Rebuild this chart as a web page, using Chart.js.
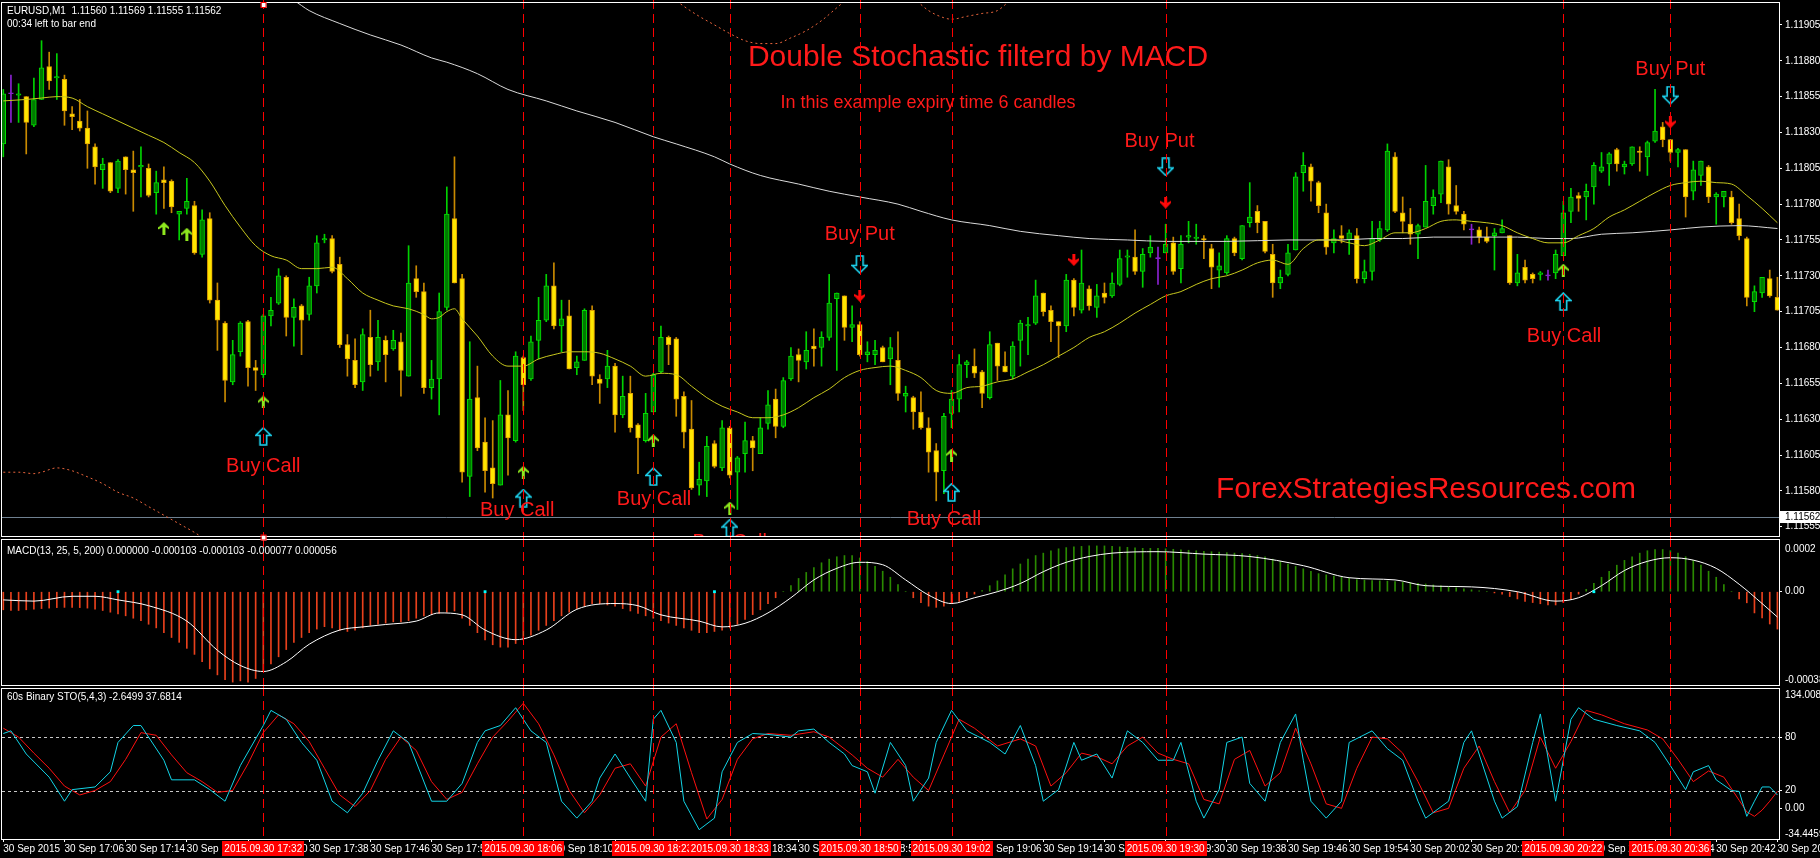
<!DOCTYPE html>
<html>
<head>
<meta charset="utf-8">
<title>EURUSD M1 - Double Stochastic filterd by MACD</title>
<script src="https://cdn.jsdelivr.net/npm/chart.js@4.4.1/dist/chart.umd.min.js"></script>
<style>
  html, body { margin: 0; padding: 0; background: #000; overflow: hidden; }
  #stage { position: relative; width: 1820px; height: 858px; background: #000; }
  #stage canvas { position: absolute; left: 0; }
</style>
</head>
<body>
<div id="stage">
  <canvas id="pricePane" width="1820" height="538" style="top:0px"></canvas>
  <canvas id="macdPane" width="1820" height="149" style="top:538px"></canvas>
  <canvas id="stochPane" width="1820" height="171" style="top:687px"></canvas>
</div>
<script>
// ---------- EURUSD M1, 30 Sep 2015 16:58 .. 20:50 (one entry per minute bar) ----------
const priceOpen = [
1.11822,1.11857,1.11856,1.11855,1.11835,1.11853,1.11876,1.11868,1.11867,1.11843,
1.11838,1.11833,1.11820,1.11804,1.11809,1.11791,1.11813,1.11804,1.11806,1.11805,
1.11788,1.11797,1.11796,1.11773,1.11777,1.11779,1.11745,1.11770,1.11713,1.11697,
1.11656,1.11677,1.11698,1.11666,1.11661,1.11702,1.11711,1.11729,1.11701,1.11709,
1.11703,1.11723,1.11755,1.11756,1.11738,1.11682,1.11671,1.11656,1.11687,1.11670,
1.11685,1.11679,1.11684,1.11660,1.11728,1.11719,1.11652,1.11658,1.11708,1.11770,
1.11728,1.11590,1.11645,1.11614,1.11596,1.11584,1.11633,1.11615,1.11673,1.11658,
1.11685,1.11699,1.11723,1.11695,1.11702,1.11666,1.11671,1.11706,1.11658,1.11658,
1.11667,1.11633,1.11648,1.11626,1.11615,1.11635,1.11663,1.11687,1.11686,1.11646,
1.11623,1.11584,1.11587,1.11613,1.11596,1.11624,1.11593,1.11606,1.11615,1.11606,
1.11627,1.11644,1.11625,1.11658,1.11675,1.11670,1.11681,1.11680,1.11687,1.11714,
1.11716,1.11694,1.11696,1.11675,1.11675,1.11680,1.11672,1.11671,1.11646,1.11645,
1.11635,1.11624,1.11608,1.11594,1.11634,1.11644,1.11668,1.11667,1.11663,1.11645,
1.11683,1.11667,1.11660,1.11685,1.11695,1.11697,1.11718,1.11706,1.11698,1.11695,
1.11727,1.11706,1.11721,1.11708,1.11718,1.11716,1.11724,1.11743,1.11743,1.11733,
1.11746,1.11742,1.11746,1.11753,1.11735,1.11757,1.11756,1.11756,1.11749,1.11734,
1.11732,1.11756,1.11742,1.11767,1.11775,1.11768,1.11745,1.11725,1.11731,1.11748,
1.11802,1.11806,1.11795,1.11774,1.11753,1.11758,1.11755,1.11758,1.11728,1.11733,
1.11755,1.11762,1.11813,1.11774,1.11766,1.11759,1.11764,1.11779,1.11787,1.11806,
1.11779,1.11773,1.11762,1.11762,1.11757,1.11758,1.11760,1.11758,1.11725,1.11736,
1.11731,1.11731,1.11730,1.11732,1.11744,1.11775,1.11786,1.11785,1.11792,1.11803,
1.11808,1.11818,1.11806,1.11808,1.11817,1.11813,1.11824,1.11834,1.11825,1.11816,
1.11818,1.11789,1.11800,1.11806,1.11785,1.11785,1.11785,1.11770,1.11756,1.11712,
1.11718,1.11728,1.11715];
const priceHigh = [
1.11860,1.11870,1.11864,1.11855,1.11868,1.11894,1.11886,1.11885,1.11870,1.11848,
1.11853,1.11845,1.11822,1.11812,1.11809,1.11811,1.11813,1.11817,1.11820,1.11808,
1.11803,1.11806,1.11797,1.11775,1.11798,1.11782,1.11776,1.11774,1.11725,1.11698,
1.11685,1.11698,1.11699,1.11671,1.11703,1.11715,1.11735,1.11730,1.11714,1.11710,
1.11729,1.11758,1.11759,1.11758,1.11743,1.11689,1.11686,1.11693,1.11706,1.11699,
1.11688,1.11692,1.11690,1.11751,1.11737,1.11725,1.11671,1.11718,1.11792,1.11813,
1.11731,1.11684,1.11667,1.11631,1.11629,1.11657,1.11650,1.11677,1.11674,1.11688,
1.11715,1.11731,1.11739,1.11713,1.11713,1.11674,1.11707,1.11709,1.11661,1.11678,
1.11669,1.11660,1.11660,1.11627,1.11648,1.11662,1.11695,1.11688,1.11687,1.11649,
1.11643,1.11600,1.11618,1.11615,1.11629,1.11625,1.11604,1.11628,1.11618,1.11631,
1.11650,1.11651,1.11659,1.11680,1.11679,1.11691,1.11693,1.11691,1.11731,1.11718,
1.11716,1.11709,1.11698,1.11684,1.11685,1.11681,1.11687,1.11691,1.11653,1.11646,
1.11649,1.11631,1.11613,1.11634,1.11650,1.11675,1.11671,1.11679,1.11664,1.11691,
1.11683,1.11677,1.11684,1.11699,1.11701,1.11727,1.11718,1.11709,1.11698,1.11731,
1.11728,1.11748,1.11723,1.11724,1.11725,1.11732,1.11748,1.11748,1.11762,1.11749,
1.11758,1.11750,1.11766,1.11757,1.11758,1.11768,1.11766,1.11758,1.11752,1.11746,
1.11758,1.11757,1.11765,1.11795,1.11779,1.11768,1.11752,1.11734,1.11752,1.11802,
1.11816,1.11808,1.11796,1.11780,1.11762,1.11765,1.11762,1.11763,1.11741,1.11768,
1.11768,1.11822,1.11816,1.11785,1.11777,1.11766,1.11807,1.11790,1.11810,1.11811,
1.11793,1.11775,1.11766,1.11764,1.11764,1.11763,1.11769,1.11758,1.11745,1.11741,
1.11732,1.11733,1.11734,1.11748,1.11782,1.11791,1.11788,1.11794,1.11809,1.11816,
1.11816,1.11819,1.11810,1.11820,1.11820,1.11824,1.11860,1.11837,1.11825,1.11819,
1.11818,1.11810,1.11810,1.11807,1.11788,1.11789,1.11789,1.11780,1.11757,1.11723,
1.11729,1.11734,1.11729];
const priceLow = [
1.11813,1.11837,1.11837,1.11815,1.11834,1.11853,1.11860,1.11853,1.11835,1.11832,
1.11831,1.11805,1.11794,1.11791,1.11788,1.11788,1.11787,1.11775,1.11785,1.11785,
1.11773,1.11777,1.11774,1.11755,1.11773,1.11745,1.11743,1.11711,1.11678,1.11642,
1.11654,1.11674,1.11653,1.11650,1.11659,1.11695,1.11710,1.11688,1.11681,1.11675,
1.11699,1.11718,1.11753,1.11732,1.11680,1.11660,1.11652,1.11650,1.11660,1.11664,
1.11656,1.11678,1.11646,1.11660,1.11715,1.11648,1.11644,1.11633,1.11706,1.11725,
1.11586,1.11576,1.11608,1.11579,1.11575,1.11584,1.11591,1.11614,1.11636,1.11657,
1.11672,1.11698,1.11693,1.11677,1.11665,1.11661,1.11671,1.11654,1.11641,1.11652,
1.11621,1.11631,1.11621,1.11592,1.11614,1.11635,1.11662,1.11668,1.11632,1.11610,
1.11581,1.11577,1.11576,1.11596,1.11594,1.11589,1.11567,1.11593,1.11594,1.11606,
1.11623,1.11617,1.11624,1.11657,1.11656,1.11665,1.11667,1.11667,1.11685,1.11664,
1.11685,1.11684,1.11674,1.11670,1.11668,1.11670,1.11654,1.11643,1.11635,1.11623,
1.11623,1.11593,1.11573,1.11578,1.11624,1.11635,1.11659,1.11659,1.11638,1.11644,
1.11657,1.11663,1.11658,1.11667,1.11675,1.11696,1.11702,1.11684,1.11673,1.11691,
1.11702,1.11704,1.11706,1.11701,1.11711,1.11715,1.11723,1.11729,1.11731,1.11722,
1.11743,1.11724,1.11746,1.11731,1.11725,1.11753,1.11752,1.11742,1.11721,1.11722,
1.11731,1.11744,1.11741,1.11764,1.11760,1.11746,1.11715,1.11721,1.11730,1.11748,
1.11789,1.11782,1.11774,1.11745,1.11746,1.11753,1.11745,1.11725,1.11725,1.11727,
1.11754,1.11761,1.11774,1.11760,1.11752,1.11742,1.11764,1.11773,1.11781,1.11773,
1.11773,1.11762,1.11752,1.11753,1.11753,1.11734,1.11760,1.11724,1.11723,1.11725,
1.11725,1.11727,1.11727,1.11728,1.11744,1.11767,1.11775,1.11769,1.11780,1.11802,
1.11793,1.11803,1.11801,1.11807,1.11803,1.11800,1.11823,1.11820,1.11810,1.11806,
1.11771,1.11783,1.11793,1.11781,1.11766,1.11778,1.11766,1.11755,1.11709,1.11705,
1.11715,1.11715,1.11706];
const priceClose = [
1.11857,1.11857,1.11857,1.11837,1.11853,1.11875,1.11866,1.11869,1.11845,1.11841,
1.11833,1.11822,1.11806,1.11808,1.11789,1.11810,1.11804,1.11802,1.11807,1.11786,
1.11795,1.11795,1.11778,1.11775,1.11782,1.11746,1.11769,1.11713,1.11699,1.11657,
1.11675,1.11697,1.11666,1.11664,1.11702,1.11706,1.11730,1.11701,1.11708,1.11699,
1.11723,1.11753,1.11756,1.11733,1.11682,1.11672,1.11654,1.11689,1.11668,1.11687,
1.11675,1.11685,1.11664,1.11725,1.11719,1.11652,1.11658,1.11705,1.11773,1.11725,
1.11593,1.11644,1.11610,1.11594,1.11585,1.11633,1.11617,1.11674,1.11654,1.11684,
1.11699,1.11723,1.11695,1.11700,1.11665,1.11670,1.11706,1.11660,1.11655,1.11667,
1.11633,1.11646,1.11624,1.11617,1.11634,1.11661,1.11687,1.11682,1.11644,1.11621,
1.11582,1.11588,1.11611,1.11597,1.11624,1.11591,1.11603,1.11615,1.11610,1.11624,
1.11640,1.11625,1.11657,1.11674,1.11671,1.11678,1.11679,1.11687,1.11711,1.11718,
1.11694,1.11696,1.11675,1.11677,1.11678,1.11670,1.11680,1.11648,1.11648,1.11635,
1.11624,1.11607,1.11593,1.11632,1.11644,1.11668,1.11670,1.11662,1.11648,1.11682,
1.11667,1.11663,1.11681,1.11697,1.11696,1.11716,1.11705,1.11698,1.11695,1.11727,
1.11708,1.11725,1.11709,1.11716,1.11715,1.11725,1.11742,1.11744,1.11733,1.11745,
1.11750,1.11742,1.11752,1.11733,1.11752,1.11758,1.11757,1.11755,1.11736,1.11737,
1.11756,1.11746,1.11765,1.11771,1.11767,1.11747,1.11725,1.11729,1.11746,1.11799,
1.11807,1.11796,1.11779,1.11750,1.11756,1.11756,1.11760,1.11728,1.11733,1.11756,
1.11763,1.11817,1.11775,1.11768,1.11759,1.11765,1.11782,1.11785,1.11810,1.11780,
1.11775,1.11766,1.11762,1.11757,1.11754,1.11760,1.11763,1.11725,1.11732,1.11727,
1.11728,1.11732,1.11730,1.11745,1.11774,1.11785,1.11784,1.11789,1.11807,1.11806,
1.11815,1.11808,1.11808,1.11820,1.11816,1.11823,1.11831,1.11825,1.11816,1.11818,
1.11785,1.11804,1.11810,1.11785,1.11787,1.11789,1.11767,1.11758,1.11715,1.11719,
1.11729,1.11716,1.11706];

// Moving averages (bar index -> value)
const maFastIdx = [0,3,5,7,9,11,13,15,17,19,21,23,25,27,29,31,33,35,37,39,41,43,45,47,49,51,53,55,56,57,58,59,60,62,64,66,68,70,72,74,76,78,80,82,84,86,88,90,92,94,96,98,100,102,104,106,108,110,112,114,116,118,120,122,124,126,128,130,132,134,136,138,140,142,144,146,148,150,152,154,156,158,160,162,164,166,168,170,172,174,176,178,180,182,184,186,188,190,192,194,196,198,200,202,204,206,208,210,212,214,216,218,220,222,224,226,228,230,232];
const maFast = [1.11852,1.11853,1.11854,1.11855,1.11854,1.11848,1.11843,1.11838,1.11833,1.11828,1.11823,1.11816,1.11809,1.11796,1.11779,1.11764,1.11751,1.11744,1.11741,1.11735,1.11735,1.11736,1.11728,1.11718,1.11713,1.11709,1.11707,1.11703,1.11700,1.11701,1.11705,1.11707,1.11700,1.11688,1.11674,1.11667,1.11667,1.11672,1.11675,1.11677,1.11677,1.11676,1.11672,1.11667,1.11660,1.11662,1.11661,1.11653,1.11645,1.11639,1.11635,1.11631,1.11631,1.11633,1.11638,1.11645,1.11651,1.11659,1.11664,1.11666,1.11667,1.11664,1.11659,1.11650,1.11648,1.11652,1.11653,1.11656,1.11658,1.11663,1.11668,1.11674,1.11680,1.11687,1.11691,1.11697,1.11704,1.11710,1.11716,1.11719,1.11724,1.11728,1.11730,1.11734,1.11739,1.11741,1.11738,1.11749,1.11755,1.11755,1.11753,1.11751,1.11755,1.11760,1.11760,1.11763,1.11768,1.11769,1.11768,1.11767,1.11765,1.11760,1.11756,1.11753,1.11753,1.11758,1.11763,1.11771,1.11776,1.11782,1.11788,1.11793,1.11795,1.11796,1.11795,1.11794,1.11786,1.11777,1.11767];
const maSlowIdx = [0,10,20,30,38,40,44,48,52,56,58,62,66,71,75,80,85,88,93,95,99,104,108,112,117,120,124,129,133,138,142,147,152,160,168,175,179,183,187,192,198,202,205,209,213,218,222,227,232];
const maSlow = [1.12010,1.11985,1.11960,1.11938,1.11922,1.11915,1.11906,1.11898,1.11891,1.11882,1.11879,1.11871,1.11860,1.11852,1.11845,1.11837,1.11827,1.11822,1.11813,1.11808,1.11800,1.11794,1.11789,1.11785,1.11780,1.11775,1.11769,1.11765,1.11761,1.11758,1.11756,1.11755,1.11754,1.11754,1.11755,1.11755,1.11756,1.11756,1.11757,1.11757,1.11757,1.11756,1.11756,1.11759,1.11760,1.11762,1.11764,1.11765,1.11763];

// Envelope bands (only the stretches that enter the window)
const bandLowIdx = [0,2,4,5,7,9,10,13,15,17,19,21,23,25,27];
const bandLow = [1.11593,1.11593,1.11592,1.11593,1.11596,1.11594,1.11592,1.11585,1.11579,1.11575,1.11569,1.11563,1.11557,1.11551,1.11544];
const bandHighIdx = [87,89,91,93,95,97,99,101,103,105,107,109,111,115,119,121,123,124,126,128,130,132];
const bandHigh = [1.11926,1.11918,1.11911,1.11905,1.11899,1.11894,1.11892,1.11892,1.11896,1.11901,1.11908,1.11917,1.11926,null,1.11924,1.11915,1.11910,1.11909,1.11911,1.11913,1.11915,1.11924];

// Signal arrows
const trendUpIdx = [21,24,34,68,85,95,124,204];
const trendUpPrice = [1.11763,1.11759,1.11642,1.11593,1.11615,1.11568,1.11605,1.11734];
const callArrowIdx = [34,68,85,95,124,204];
const callArrowPrice = [1.11618,1.11575,1.11590,1.11554,1.11579,1.11712];
const putArrowIdx = [112,152,218];
const putArrowPrice = [1.11738,1.11806,1.11856];
const downArrowIdx = [112,140,152,218];
const downArrowPrice = [1.11716,1.11741,1.11781,1.11837];

// Text labels next to the signals
const callLabelIdx = [34,67.2,85.1,95,123,204.1];
const callLabelPrice = [1.11597,1.11566,1.11574,1.11544,1.11560,1.11688];
const putLabelIdx = [112,151.2,218];
const putLabelPrice = [1.11759,1.11824,1.11874];

// Expiry markers (vertical lines) and their time stamps
const vlineIdx = [34,68,85,95,112,124,152,204,218];
const vlineLabels = ['2015.09.30 17:32','2015.09.30 18:06','2015.09.30 18:23','2015.09.30 18:33','2015.09.30 18:50','2015.09.30 19:02','2015.09.30 19:30','2015.09.30 20:22','2015.09.30 20:36'];
const selectedLineIdx = 34;

// Price axis
const priceTicks = [1.11555,1.11580,1.11605,1.11630,1.11655,1.11680,1.11705,1.11730,1.11755,1.11780,1.11805,1.11830,1.11855,1.11880,1.11905];
const priceMin = 1.115485, priceMax = 1.119203;
const bidPrice = 1.11562;

// Time axis
const timeTickIdx = [0,8,16,24,32,40,48,56,64,72,80,88,96,104,112,120,128,136,144,152,160,168,176,184,192,200,208,216,224,232];
const timeLabels = ['30 Sep 2015','30 Sep 17:06','30 Sep 17:14','30 Sep 17:22','30 Sep 17:30','30 Sep 17:38','30 Sep 17:46','30 Sep 17:54','30 Sep 18:02','30 Sep 18:10','30 Sep 18:18','30 Sep 18:26','30 Sep 18:34','30 Sep 18:42','30 Sep 18:50','30 Sep 18:58','30 Sep 19:06','30 Sep 19:14','30 Sep 19:22','30 Sep 19:30','30 Sep 19:38','30 Sep 19:46','30 Sep 19:54','30 Sep 20:02','30 Sep 20:10','30 Sep 20:18','30 Sep 20:26','30 Sep 20:34','30 Sep 20:42','30 Sep 20:50'];

// MACD(13,25,5) histogram per bar and its signal line
const macdHist = [
-75e-6,-78e-6,-78e-6,-75e-6,-72e-6,-70e-6,-68e-6,-66e-6,-65e-6,-65e-6,
-66e-6,-68e-6,-72e-6,-78e-6,-85e-6,-92e-6,-100e-6,-110e-6,-120e-6,-135e-6,
-150e-6,-170e-6,-190e-6,-210e-6,-235e-6,-260e-6,-290e-6,-320e-6,-345e-6,-365e-6,
-375e-6,-370e-6,-375e-6,-360e-6,-330e-6,-300e-6,-270e-6,-240e-6,-210e-6,-190e-6,
-170e-6,-155e-6,-145e-6,-150e-6,-160e-6,-165e-6,-160e-6,-150e-6,-140e-6,-135e-6,
-130e-6,-125e-6,-125e-6,-120e-6,-110e-6,-100e-6,-95e-6,-90e-6,-85e-6,-80e-6,
-110e-6,-140e-6,-170e-6,-200e-6,-220e-6,-230e-6,-230e-6,-215e-6,-200e-6,-180e-6,
-160e-6,-140e-6,-120e-6,-100e-6,-85e-6,-70e-6,-60e-6,-50e-6,-50e-6,-55e-6,
-60e-6,-70e-6,-80e-6,-90e-6,-100e-6,-110e-6,-120e-6,-130e-6,-140e-6,-150e-6,
-160e-6,-170e-6,-170e-6,-165e-6,-160e-6,-150e-6,-135e-6,-115e-6,-95e-6,-75e-6,
-50e-6,-25e-6,0,25e-6,55e-6,80e-6,100e-6,120e-6,135e-6,145e-6,
150e-6,150e-6,140e-6,125e-6,105e-6,85e-6,60e-6,30e-6,0,-25e-6,
-45e-6,-60e-6,-65e-6,-60e-6,-50e-6,-40e-6,-25e-6,-10e-6,5e-6,25e-6,
45e-6,70e-6,95e-6,115e-6,135e-6,150e-6,160e-6,170e-6,178e-6,183e-6,
186e-6,188e-6,190e-6,190e-6,190e-6,188e-6,186e-6,184e-6,182e-6,180e-6,
180e-6,180e-6,178e-6,176e-6,174e-6,172e-6,170e-6,168e-6,166e-6,164e-6,
162e-6,160e-6,158e-6,155e-6,150e-6,145e-6,135e-6,125e-6,115e-6,105e-6,
95e-6,85e-6,75e-6,70e-6,65e-6,60e-6,55e-6,50e-6,48e-6,46e-6,
45e-6,44e-6,42e-6,40e-6,38e-6,35e-6,32e-6,28e-6,24e-6,20e-6,
16e-6,12e-6,8e-6,4e-6,0,-5e-6,-10e-6,-20e-6,-30e-6,-40e-6,
-45e-6,-50e-6,-55e-6,-55e-6,-45e-6,-30e-6,-10e-6,10e-6,35e-6,60e-6,
85e-6,110e-6,130e-6,145e-6,160e-6,170e-6,175e-6,175e-6,170e-6,160e-6,
145e-6,130e-6,110e-6,85e-6,60e-6,30e-6,0,-30e-6,-46e-6,-88e-6,
-109e-6,-134e-6,-155e-6];
const macdSignalIdx = [0,4,9,12,15,19,24,28,31,34,37,40,44,47,50,54,57,60,63,67,71,75,80,83,86,91,94,97,100,103,106,109,112,115,118,121,124,127,130,133,136,139,142,145,151,157,163,170,176,182,186,192,198,203,206,209,212,215,218,221,224,227,230,232];
const macdSignal = [-34e-6,-39e-6,-19e-6,-19e-6,-34e-6,-58e-6,-122e-6,-243e-6,-306e-6,-331e-6,-291e-6,-218e-6,-159e-6,-146e-6,-136e-6,-122e-6,-88e-6,-96e-6,-159e-6,-199e-6,-159e-6,-73e-6,-49e-6,-58e-6,-96e-6,-122e-6,-146e-6,-131e-6,-88e-6,-25e-6,49e-6,97e-6,122e-6,112e-6,49e-6,-14e-6,-49e-6,-25e-6,0,34e-6,83e-6,122e-6,146e-6,160e-6,166e-6,156e-6,146e-6,108e-6,58e-6,49e-6,25e-6,20e-6,0,-39e-6,-25e-6,25e-6,88e-6,126e-6,141e-6,131e-6,97e-6,31e-6,-49e-6,-105e-6];
const macdDotIdx = [15,63,93,208];
const macdMin = -0.000387, macdMax = 0.0002145;

// 60s Binary STO(5,4,3): main and signal lines
const stochMainIdx = [0,1,3,6,8,9,12,14,15,17,18,21,22,25,27,29,31,34,35,37,39,41,43,45,47,49,51,53,56,58,60,62,63,65,67,69,71,73,75,77,78,80,82,84,85,86,88,89,91,93,94,96,98,100,103,104,106,108,110,111,113,114,116,118,119,121,122,124,126,129,131,133,135,136,138,140,141,143,145,147,149,151,153,154,156,157,159,160,162,163,165,167,169,170,171,173,175,176,179,181,183,185,186,189,191,192,195,196,198,200,201,203,205,206,208,211,214,216,218,220,221,223,224,226,227,228,229,230,231,232];
const stochMain = [84,87,61,35,8,21,24,41,74,93,93,54,32,32,21,8,48,93,110,100,74,54,8,-5,17,54,87,74,8,8,28,74,87,93,113,87,74,8,-11,8,34,61,34,8,100,110,74,8,-24,-11,41,74,84,83,80,87,89,74,61,48,41,17,74,48,8,34,74,110,87,74,61,93,48,8,21,74,54,61,34,87,74,54,54,74,8,-11,21,74,80,28,8,74,106,54,8,-11,8,74,87,67,54,8,-11,8,74,87,8,-11,2,74,106,8,100,113,100,93,87,74,48,21,41,48,32,20,19,-9,8,24,24,15];
const stochSignalIdx = [0,2,4,6,8,10,12,14,16,18,20,22,24,26,28,30,32,34,36,38,40,42,44,46,48,50,52,54,56,58,60,62,64,66,68,70,72,74,76,78,80,82,84,86,88,90,92,94,96,98,100,103,106,108,111,113,115,117,119,121,123,125,127,130,133,135,137,139,141,143,145,147,149,151,153,155,157,159,161,163,165,167,169,171,173,175,177,179,181,183,185,187,189,191,193,195,197,199,201,203,205,207,209,212,215,217,219,221,223,225,227,228,229,230,231,232];
const stochSignal = [90,80,62,45,25,15,20,30,55,85,82,60,40,30,18,20,50,85,105,95,75,45,15,2,20,55,80,65,30,10,18,50,80,98,118,95,60,20,-5,15,45,50,25,80,95,40,-12,10,55,78,84,82,86,80,60,45,35,55,35,20,60,100,90,70,78,70,25,40,62,58,50,70,80,62,55,50,10,5,55,65,25,40,90,50,5,0,45,80,78,62,30,-5,0,45,70,30,-5,20,80,45,75,110,105,95,88,78,55,30,42,35,9,-4,-9,-2,8,19];
const stochLevels = [80, 20];
const stochTicks = [80, 20, 0];
const stochTickLabels = ['80', '20', '0.00'];
const stochMin = -34.4459, stochMax = 134.0088;

// ---------- styling ----------
const FONT = '"Liberation Sans", Arial, sans-serif';
const SIGNAL_RED = '#FF1A1A';
Chart.defaults.font.family = FONT;
Chart.defaults.font.size = 10;
Chart.defaults.color = '#FFFFFF';
Chart.defaults.animation = false;

const X_MIN = -0.17, X_MAX = 232.21;
const barDir = i => (priceClose[i] > priceOpen[i] ? 1 : (priceClose[i] < priceOpen[i] ? -1 : 0));
const pick = (i, bull, bear, doji) => { const d = barDir(i); return d > 0 ? bull : (d < 0 ? bear : doji); };

function icon(w, h, draw) {
  const c = document.createElement('canvas');
  c.width = w; c.height = h;
  draw(c.getContext('2d'));
  return c;
}
function poly(g, p) { g.beginPath(); g.moveTo(p[0][0], p[0][1]); for (let k = 1; k < p.length; k++) g.lineTo(p[k][0], p[k][1]); g.closePath(); }
const iconTrendUp = icon(11, 13, g => { g.fillStyle = '#8FE81E'; poly(g, [[5.5,0],[11,5.5],[11,7.5],[7,5],[7,13],[4,13],[4,5],[0,7.5],[0,5.5]]); g.fill(); });
const iconCall = icon(17, 19, g => { g.strokeStyle = '#1ED6F2'; g.lineWidth = 1.6; poly(g, [[8.5,1],[16,8.5],[11.8,8.5],[11.8,18],[5.2,18],[5.2,8.5],[1,8.5]]); g.stroke(); });
const iconPut = icon(17, 19, g => { g.strokeStyle = '#1ED6F2'; g.lineWidth = 1.6; poly(g, [[5.2,1],[11.8,1],[11.8,10.5],[16,10.5],[8.5,18],[1,10.5],[5.2,10.5]]); g.stroke(); });
const iconDown = icon(11, 12, g => { g.fillStyle = '#FF0A0A'; poly(g, [[4,0],[7,0],[7,6],[11,4],[11,6],[5.5,12],[0,6],[0,4],[4,6]]); g.fill(); });

const pts = (idx, vals) => idx.map((x, k) => ({ x, y: vals[k] }));

function rightAxis(min, max, ticks, fmt) {
  return {
    type: 'linear', position: 'right', min, max,
    afterBuildTicks: s => { s.ticks = ticks.map(v => ({ value: v })); },
    afterFit: s => { s.width = 41; s.paddingTop = 0; s.paddingBottom = 0; },
    grid: { drawOnChartArea: false, drawTicks: true, tickLength: 3, color: '#FFFFFF' },
    border: { display: false },
    ticks: { color: '#FFFFFF', padding: 3, autoSkip: false, font: { size: 10, lineHeight: 0.4 }, callback: fmt }
  };
}
const hiddenX = { type: 'linear', min: X_MIN, max: X_MAX, offset: false, display: false };

// small anchor square drawn on the selected vertical line
function anchorSquare(ctx, px, y) {
  ctx.fillStyle = '#FFFFFF';
  ctx.fillRect(px - 2, y - 2, 5, 5);
  ctx.strokeStyle = '#FF0000'; ctx.setLineDash([]);
  ctx.strokeRect(px - 2.5, y - 2.5, 5, 5);
}

// overlays: borders, texts, expiry lines, level lines
const mtOverlay = {
  id: 'mtOverlay',
  beforeDatasetsDraw(chart, args, o) {
    const { ctx, chartArea: a } = chart;
    const ys = chart.scales.y;
    ctx.save();
    ctx.lineWidth = 1;
    if (o.kind === 'price') {
      const yb = Math.round(ys.getPixelForValue(bidPrice)) + 0.5;
      ctx.strokeStyle = '#6F8090';
      ctx.beginPath(); ctx.moveTo(a.left, yb); ctx.lineTo(a.right, yb); ctx.stroke();
    }
    if (o.kind === 'stoch') {
      ctx.strokeStyle = '#C8C8C8'; ctx.setLineDash([3, 3]);
      stochLevels.forEach(v => {
        const yy = Math.round(ys.getPixelForValue(v)) + 0.5;
        ctx.beginPath(); ctx.moveTo(a.left, yy); ctx.lineTo(a.right, yy); ctx.stroke();
      });
    }
    ctx.restore();
  },
  afterDatasetsDraw(chart, args, o) {
    const { ctx, chartArea: a } = chart;
    const xs = chart.scales.x, ys = chart.scales.y;
    ctx.save();
    if (o.kind === 'price') {
      ctx.save();
      ctx.beginPath(); ctx.rect(a.left, a.top, a.right - a.left, a.bottom - a.top); ctx.clip();
      ctx.fillStyle = SIGNAL_RED; ctx.textAlign = 'center'; ctx.textBaseline = 'middle';
      ctx.font = '20px ' + FONT;
      callLabelIdx.forEach((ix, k) => ctx.fillText('Buy Call', xs.getPixelForValue(ix), ys.getPixelForValue(callLabelPrice[k])));
      putLabelIdx.forEach((ix, k) => ctx.fillText('Buy Put', xs.getPixelForValue(ix), ys.getPixelForValue(putLabelPrice[k])));
      ctx.font = '30px ' + FONT;
      ctx.fillText('Double Stochastic filterd by MACD', 978, 58);
      ctx.font = '18px ' + FONT;
      ctx.fillText('In this example expiry time 6 candles', 928, 103);
      ctx.font = '30px ' + FONT;
      ctx.fillText('ForexStrategiesResources.com', 1426, 490);
      ctx.restore();
    }
    ctx.strokeStyle = '#FF0000'; ctx.lineWidth = 1; ctx.setLineDash([9, 5]);
    const yEnd = o.kind === 'stoch' ? a.bottom : chart.height;
    vlineIdx.forEach(ix => {
      const px = Math.round(xs.getPixelForValue(ix)) + 0.5;
      ctx.beginPath(); ctx.moveTo(px, 0); ctx.lineTo(px, yEnd); ctx.stroke();
    });
    ctx.restore();
  },
  afterDraw(chart, args, o) {
    const { ctx, chartArea: a } = chart;
    const xs = chart.scales.x, ys = chart.scales.y;
    ctx.save();
    ctx.strokeStyle = '#FFFFFF'; ctx.lineWidth = 1;
    ctx.strokeRect(a.left - 0.5, a.top - 0.5, a.right - a.left + 1, a.bottom - a.top + 1);
    ctx.fillStyle = '#FFFFFF'; ctx.font = '10px ' + FONT;
    ctx.textAlign = 'left'; ctx.textBaseline = 'middle';
    (o.header || []).forEach(h => ctx.fillText(h[0], 7, h[1]));
    (o.edgeLabels || []).forEach(h => ctx.fillText(h[0], a.right + 6, h[1]));
    const sx = Math.round(xs.getPixelForValue(selectedLineIdx)) + 0.5;
    if (o.kind === 'price') {
      const yb = Math.round(ys.getPixelForValue(bidPrice));
      ctx.fillStyle = '#FFFFFF';
      ctx.fillRect(a.right + 1, yb - 6, 40, 12);
      ctx.fillStyle = '#000000';
      ctx.fillText(bidPrice.toFixed(5), a.right + 6, yb);
      anchorSquare(ctx, sx, 5);
      anchorSquare(ctx, sx, chart.height - 0.5);
    }
    if (o.kind === 'macd') anchorSquare(ctx, sx, -0.5);
    if (o.kind === 'stoch') {
      ctx.textAlign = 'center';
      vlineIdx.forEach((ix, k) => {
        const px = xs.getPixelForValue(ix);
        const w = ctx.measureText(vlineLabels[k]).width + 4;
        ctx.fillStyle = '#FF0000';
        ctx.fillRect(Math.round(px - w / 2), a.bottom + 2, Math.round(w), 15);
        ctx.fillStyle = '#FFFFFF';
        ctx.fillText(vlineLabels[k], px, a.bottom + 10);
      });
    }
    ctx.restore();
  }
};

const baseOptions = (padding) => ({
  responsive: false, devicePixelRatio: 1, events: [],
  layout: { autoPadding: false, padding }
});

// ---------- price pane ----------
new Chart(document.getElementById('pricePane'), {
  type: 'bar',
  data: {
    datasets: [
      { type: 'line', order: 0, data: pts(trendUpIdx, trendUpPrice), showLine: false, pointStyle: iconTrendUp, pointRadius: 6 },
      { type: 'line', order: 0, data: pts(callArrowIdx, callArrowPrice), showLine: false, pointStyle: iconCall, pointRadius: 8 },
      { type: 'line', order: 0, data: pts(putArrowIdx, putArrowPrice), showLine: false, pointStyle: iconPut, pointRadius: 8 },
      { type: 'line', order: 0, data: pts(downArrowIdx, downArrowPrice), showLine: false, pointStyle: iconDown, pointRadius: 6 },
      { type: 'line', order: 1, data: pts(maFastIdx, maFast), borderColor: '#C8C81E', borderWidth: 1, pointRadius: 0, cubicInterpolationMode: 'monotone' },
      { type: 'line', order: 1, data: pts(maSlowIdx, maSlow), borderColor: '#D9D9D9', borderWidth: 1, pointRadius: 0, cubicInterpolationMode: 'monotone' },
      { type: 'line', order: 4, data: pts(bandLowIdx, bandLow), borderColor: '#E8643C', borderWidth: 1, borderDash: [2, 3], pointRadius: 0, cubicInterpolationMode: 'monotone', spanGaps: false },
      { type: 'line', order: 4, data: pts(bandHighIdx, bandHigh), borderColor: '#E8643C', borderWidth: 1, borderDash: [2, 3], pointRadius: 0, cubicInterpolationMode: 'monotone', spanGaps: false },
      { order: 2, grouped: false, barThickness: 4.8, minBarLength: 1, borderSkipped: false, borderWidth: 1,
        data: priceOpen.map((v, i) => ({ x: i, y: [v, priceClose[i]] })),
        backgroundColor: c => pick(c.dataIndex, '#007A00', '#FFE600', '#8A22D0'),
        borderColor: c => pick(c.dataIndex, '#00E000', '#E0A000', '#8A22D0') },
      { order: 3, grouped: false, barThickness: 1, borderWidth: 0,
        data: priceLow.map((v, i) => ({ x: i, y: [v, priceHigh[i]] })),
        backgroundColor: c => pick(c.dataIndex, '#00D200', '#C98A00', '#8A22D0') }
    ]
  },
  options: Object.assign(baseOptions({ left: 2, top: 3, right: 0, bottom: 2 }), {
    plugins: { legend: { display: false }, tooltip: { enabled: false },
      mtOverlay: { kind: 'price', header: [['EURUSD,M1  1.11560 1.11569 1.11555 1.11562', 11], ['00:34 left to bar end', 24]] } },
    scales: { x: hiddenX, y: rightAxis(priceMin, priceMax, priceTicks, v => v.toFixed(5)) }
  }),
  plugins: [mtOverlay]
});

// ---------- MACD pane ----------
new Chart(document.getElementById('macdPane'), {
  type: 'bar',
  data: {
    datasets: [
      { type: 'line', order: 0, data: macdDotIdx.map(x => ({ x, y: 0 })), showLine: false, pointStyle: 'rect', pointRadius: 2, backgroundColor: '#00FFFF', borderColor: '#00FFFF', borderWidth: 0 },
      { type: 'line', order: 1, data: pts(macdSignalIdx, macdSignal), borderColor: '#FFFFFF', borderWidth: 1, pointRadius: 0, cubicInterpolationMode: 'monotone' },
      { order: 2, grouped: false, barThickness: 1, borderWidth: 0,
        data: macdHist.map((v, i) => ({ x: i, y: v })),
        backgroundColor: c => (macdHist[c.dataIndex] < 0 ? '#E8401C' : '#2A8A00') }
    ]
  },
  options: Object.assign(baseOptions({ left: 2, top: 2, right: 0, bottom: 2 }), {
    plugins: { legend: { display: false }, tooltip: { enabled: false },
      mtOverlay: { kind: 'macd', header: [['MACD(13, 25, 5, 200) 0.000000 -0.000103 -0.000103 -0.000077 0.000056', 13]],
        edgeLabels: [['0.0002', 11], ['-0.000387', 142]] } },
    scales: { x: hiddenX, y: rightAxis(macdMin, macdMax, [0], () => '0.00') }
  }),
  plugins: [mtOverlay]
});

// ---------- Stochastic pane with the time axis ----------
new Chart(document.getElementById('stochPane'), {
  type: 'line',
  data: {
    datasets: [
      { data: pts(stochMainIdx, stochMain), borderColor: '#12D4E6', borderWidth: 1, pointRadius: 0, tension: 0 },
      { data: pts(stochSignalIdx, stochSignal), borderColor: '#FF1010', borderWidth: 1, pointRadius: 0, tension: 0 }
    ]
  },
  options: Object.assign(baseOptions({ left: 2, top: 2, right: 0, bottom: 0 }), {
    plugins: { legend: { display: false }, tooltip: { enabled: false },
      mtOverlay: { kind: 'stoch', header: [['60s Binary STO(5,4,3) -2.6499 37.6814', 10]],
        edgeLabels: [['134.0088', 8], ['-34.4459', 147]] } },
    scales: {
      x: {
        type: 'linear', min: X_MIN, max: X_MAX, offset: false, position: 'bottom',
        afterBuildTicks: s => { s.ticks = timeTickIdx.map(v => ({ value: v })); },
        afterFit: s => { s.height = 19; s.paddingLeft = 0; s.paddingRight = 0; },
        grid: { drawOnChartArea: false, drawTicks: true, tickLength: 3, color: '#FFFFFF' },
        border: { display: false },
        ticks: { align: 'start', maxRotation: 0, minRotation: 0, autoSkip: false, padding: 1, color: '#FFFFFF', font: { size: 10 },
          callback: (v, i) => timeLabels[i] }
      },
      y: rightAxis(stochMin, stochMax, stochTicks, (v, i) => stochTickLabels[i])
    }
  }),
  plugins: [mtOverlay]
});
</script>
</body>
</html>
